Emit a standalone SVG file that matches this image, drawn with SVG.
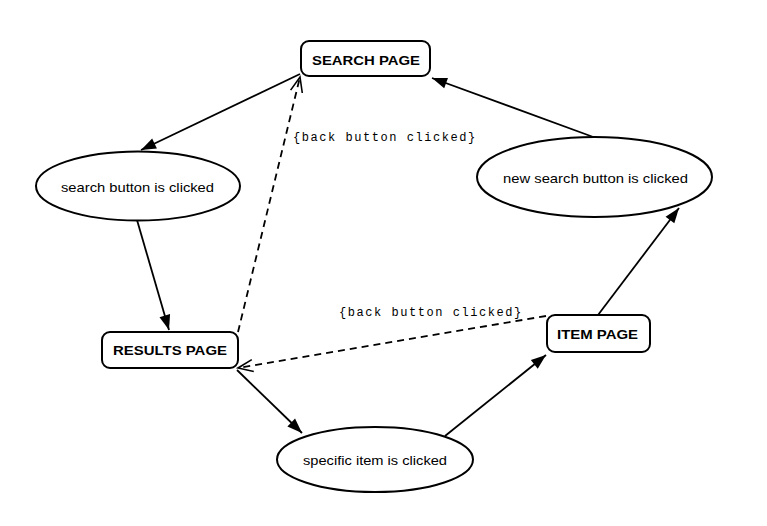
<svg xmlns="http://www.w3.org/2000/svg" width="767" height="526" viewBox="0 0 767 526">
<style>
.box{fill:#fff;stroke:#000;stroke-width:2}
.ell{fill:#fff;stroke:#000;stroke-width:2}
.bt{font-family:"Liberation Sans",Arial,sans-serif;font-weight:bold;font-size:13px;text-anchor:middle;fill:#000}
.et{font-family:"Liberation Sans",Arial,sans-serif;font-size:13px;text-anchor:middle;fill:#000}
.lt{font-family:"Liberation Mono","Courier New",monospace;font-size:12px;letter-spacing:1.55px;fill:#000}
.ln{fill:none;stroke:#000;stroke-width:1.8}
.dash{stroke-dasharray:7,5}
</style>
<defs>
<marker id="fa" markerUnits="userSpaceOnUse" markerWidth="20" markerHeight="14" viewBox="-16 -7 18 14" refX="0" refY="0" orient="auto">
<path d="M0,0 L-15,-5.5 L-15,5.5 Z" fill="#000"/>
</marker>
<marker id="oa" markerUnits="userSpaceOnUse" markerWidth="20" markerHeight="16" viewBox="-17 -8 19 16" refX="0" refY="0" orient="auto">
<path d="M-15,-6 L0,0 L-15,6" fill="none" stroke="#000" stroke-width="1.6"/>
</marker>
</defs>
<rect width="767" height="526" fill="#fff"/>
<g id="connectors">
<line class="ln" x1="300" y1="74" x2="141" y2="150" marker-end="url(#fa)"/>
<line class="ln" x1="137" y1="220" x2="169" y2="330" marker-end="url(#fa)"/>
<line class="ln" x1="237" y1="370" x2="302" y2="433" marker-end="url(#fa)"/>
<line class="ln" x1="445" y1="436" x2="546" y2="355" marker-end="url(#fa)"/>
<line class="ln" x1="598" y1="315" x2="679" y2="208" marker-end="url(#fa)"/>
<line class="ln" x1="596" y1="138" x2="432" y2="78" marker-end="url(#fa)"/>
<line class="ln dash" x1="238" y1="332" x2="300" y2="77" marker-end="url(#oa)"/>
<line class="ln dash" x1="546" y1="316" x2="238" y2="368" marker-end="url(#oa)"/>
<text class="lt" x="293" y="141">{back button clicked}</text>
<text class="lt" x="339" y="316">{back button clicked}</text>
</g>
<g id="search-page">
<rect class="box" x="301" y="41" width="129" height="35" rx="8"/>
<text class="bt" x="366" y="65" textLength="108" lengthAdjust="spacingAndGlyphs">SEARCH PAGE</text>
</g>
<g id="search-clicked">
<ellipse class="ell" cx="138" cy="186" rx="102" ry="34.5"/>
<text class="et" x="137.5" y="192" textLength="153" lengthAdjust="spacingAndGlyphs">search button is clicked</text>
</g>
<g id="results-page">
<rect class="box" x="102" y="332" width="136" height="36" rx="8"/>
<text class="bt" x="170" y="355" textLength="114" lengthAdjust="spacingAndGlyphs">RESULTS PAGE</text>
</g>
<g id="item-clicked">
<ellipse class="ell" cx="375" cy="459.5" rx="98" ry="32.5"/>
<text class="et" x="375" y="465" textLength="144" lengthAdjust="spacingAndGlyphs">specific item is clicked</text>
</g>
<g id="item-page">
<rect class="box" x="547" y="315" width="103" height="37" rx="8"/>
<text class="bt" x="597.5" y="339" textLength="81" lengthAdjust="spacingAndGlyphs">ITEM PAGE</text>
</g>
<g id="new-search-clicked">
<ellipse class="ell" cx="594.5" cy="177" rx="117.5" ry="40"/>
<text class="et" x="595.5" y="183" textLength="185" lengthAdjust="spacingAndGlyphs">new search button is clicked</text>
</g>
</svg>
